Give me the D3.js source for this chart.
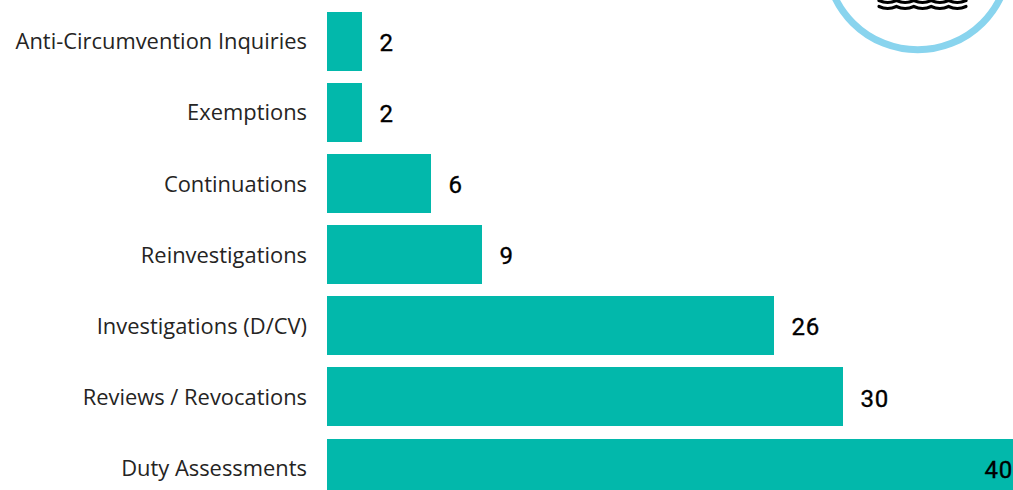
<!DOCTYPE html>
<html>
<head>
<meta charset="utf-8">
<script src="https://cdn.jsdelivr.net/npm/d3@7"></script>
<style>
  html, body { margin: 0; padding: 0; background: #fff; overflow: hidden; }
  svg { display: block; }
</style>
</head>
<body>
<div id="chart"></div>
<script>
var categories = ["Anti-Circumvention Inquiries", "Exemptions", "Continuations", "Reinvestigations", "Investigations (D/CV)", "Reviews / Revocations", "Duty Assessments"];
var counts = [2, 2, 6, 9, 26, 30, 40];

var width = 1013;
var height = 490;

var svg = d3.select("#chart")
  .append("svg")
    .attr("width", width)
    .attr("height", height);

var x = d3.scaleLinear()
  .domain([0, 40])
  .rangeRound([327.45, 1014.7]);

var y = d3.scaleBand()
  .domain(categories)
  .range([5.7, 503.7])
  .paddingInner(0.17)
  .paddingOuter(0.085);

// bars
svg.selectAll("rect.bar")
  .data(categories)
  .enter()
  .append("rect")
    .attr("class", "bar")
    .attr("x", x(0))
    .attr("y", function(d) { return Math.round(y(d)) })
    .attr("width", function(d, i) { return x(counts[i]) - x(0) })
    .attr("height", Math.round(y.bandwidth()))
    .attr("fill", "#02b8ab");

// category labels, axis line and ticks hidden
var yAxis = svg.append("g")
  .attr("transform", "translate(327,1)")
  .call(d3.axisLeft(y).tickSize(0).tickPadding(20));
yAxis.select(".domain").remove();
yAxis.selectAll("text")
  .attr("font-family", "'Open Sans', sans-serif")
  .attr("font-size", 21.9)
  .attr("fill", "#252423");

// value labels
svg.selectAll("text.value")
  .data(categories)
  .enter()
  .append("text")
    .attr("class", "value")
    .attr("x", function(d, i) { return counts[i] == 40 ? width : x(counts[i]) + 17.5 })
    .attr("y", function(d) { return y(d) + y.bandwidth() / 2 + 1 })
    .attr("dy", "0.36em")
    .attr("text-anchor", function(d, i) { return counts[i] == 40 ? "end" : "start" })
    .attr("font-family", "Roboto, sans-serif")
    .attr("font-size", 24)
    .attr("letter-spacing", 0.8)
    .attr("stroke", "#000")
    .attr("stroke-width", 0.35)
    .attr("fill", "#000")
    .text(function(d, i) { return counts[i] });

// cropped logo in the top right corner
svg.append("circle")
  .attr("cx", 917.7)
  .attr("cy", -41.9)
  .attr("r", 91.7)
  .attr("fill", "#fff")
  .attr("stroke", "#89d4ee")
  .attr("stroke-width", 7);

[0.5, 6.5].forEach(function(wy) {
  var p = d3.path();
  p.moveTo(879, wy);
  for (var i = 0; i < 5; i++) {
    p.quadraticCurveTo(887.7 + i * 17.4, wy + 4, 896.4 + i * 17.4, wy);
  }
  svg.append("path")
    .attr("d", p.toString())
    .attr("fill", "none")
    .attr("stroke", "#000")
    .attr("stroke-width", 3.2)
    .attr("stroke-linecap", "round");
});
</script>
</body>
</html>
